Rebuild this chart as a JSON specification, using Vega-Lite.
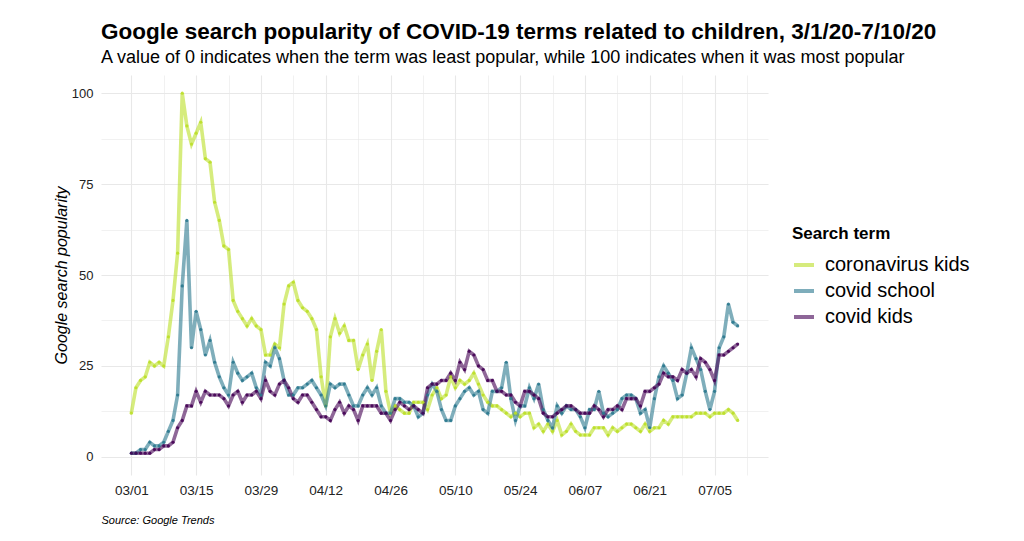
{
  "$schema": "https://vega.github.io/schema/vega-lite/v6.json",
  "width": 667,
  "height": 400,
  "autosize": "none",
  "padding": {"left": 101, "top": 75, "right": 256, "bottom": 66},
  "background": "white",
  "title": {
    "text": "Google search popularity of COVID-19 terms related to children, 3/1/20-7/10/20",
    "subtitle": "A value of 0 indicates when the term was least popular, while 100 indicates when it was most popular",
    "anchor": "start",
    "frame": "group",
    "font": "Liberation Sans",
    "fontSize": 22.5,
    "fontWeight": "bold",
    "color": "#000000",
    "subtitleFont": "Liberation Sans",
    "subtitleFontSize": 18,
    "subtitleColor": "#000000",
    "subtitlePadding": 6,
    "offset": 8
  },
  "data": {
    "values": [
      {"date": "2020-03-01", "coronavirus kids": 12, "covid school": 1, "covid kids": 1},
      {"date": "2020-03-02", "coronavirus kids": 19, "covid school": 1, "covid kids": 1},
      {"date": "2020-03-03", "coronavirus kids": 21, "covid school": 2, "covid kids": 1},
      {"date": "2020-03-04", "coronavirus kids": 22, "covid school": 2, "covid kids": 1},
      {"date": "2020-03-05", "coronavirus kids": 26, "covid school": 4, "covid kids": 1},
      {"date": "2020-03-06", "coronavirus kids": 25, "covid school": 3, "covid kids": 2},
      {"date": "2020-03-07", "coronavirus kids": 26, "covid school": 3, "covid kids": 2},
      {"date": "2020-03-08", "coronavirus kids": 25, "covid school": 4, "covid kids": 3},
      {"date": "2020-03-09", "coronavirus kids": 33, "covid school": 7, "covid kids": 3},
      {"date": "2020-03-10", "coronavirus kids": 43, "covid school": 10, "covid kids": 4},
      {"date": "2020-03-11", "coronavirus kids": 56, "covid school": 17, "covid kids": 8},
      {"date": "2020-03-12", "coronavirus kids": 100, "covid school": 47, "covid kids": 10},
      {"date": "2020-03-13", "coronavirus kids": 91, "covid school": 65, "covid kids": 14},
      {"date": "2020-03-14", "coronavirus kids": 86, "covid school": 30, "covid kids": 14},
      {"date": "2020-03-15", "coronavirus kids": 89, "covid school": 40, "covid kids": 18},
      {"date": "2020-03-16", "coronavirus kids": 92, "covid school": 35, "covid kids": 15},
      {"date": "2020-03-17", "coronavirus kids": 82, "covid school": 28, "covid kids": 18},
      {"date": "2020-03-18", "coronavirus kids": 81, "covid school": 32, "covid kids": 17},
      {"date": "2020-03-19", "coronavirus kids": 70, "covid school": 26, "covid kids": 17},
      {"date": "2020-03-20", "coronavirus kids": 65, "covid school": 22, "covid kids": 17},
      {"date": "2020-03-21", "coronavirus kids": 58, "covid school": 19, "covid kids": 16},
      {"date": "2020-03-22", "coronavirus kids": 57, "covid school": 17, "covid kids": 14},
      {"date": "2020-03-23", "coronavirus kids": 43, "covid school": 26, "covid kids": 17},
      {"date": "2020-03-24", "coronavirus kids": 40, "covid school": 23, "covid kids": 18},
      {"date": "2020-03-25", "coronavirus kids": 38, "covid school": 21, "covid kids": 15},
      {"date": "2020-03-26", "coronavirus kids": 36, "covid school": 22, "covid kids": 17},
      {"date": "2020-03-27", "coronavirus kids": 38, "covid school": 23, "covid kids": 17},
      {"date": "2020-03-28", "coronavirus kids": 36, "covid school": 19, "covid kids": 18},
      {"date": "2020-03-29", "coronavirus kids": 35, "covid school": 17, "covid kids": 16},
      {"date": "2020-03-30", "coronavirus kids": 28, "covid school": 26, "covid kids": 21},
      {"date": "2020-03-31", "coronavirus kids": 28, "covid school": 25, "covid kids": 18},
      {"date": "2020-04-01", "coronavirus kids": 31, "covid school": 30, "covid kids": 17},
      {"date": "2020-04-02", "coronavirus kids": 30, "covid school": 27, "covid kids": 20},
      {"date": "2020-04-03", "coronavirus kids": 42, "covid school": 21, "covid kids": 21},
      {"date": "2020-04-04", "coronavirus kids": 47, "covid school": 17, "covid kids": 19},
      {"date": "2020-04-05", "coronavirus kids": 48, "covid school": 17, "covid kids": 16},
      {"date": "2020-04-06", "coronavirus kids": 43, "covid school": 19, "covid kids": 15},
      {"date": "2020-04-07", "coronavirus kids": 41, "covid school": 19, "covid kids": 17},
      {"date": "2020-04-08", "coronavirus kids": 40, "covid school": 20, "covid kids": 17},
      {"date": "2020-04-09", "coronavirus kids": 38, "covid school": 21, "covid kids": 15},
      {"date": "2020-04-10", "coronavirus kids": 35, "covid school": 19, "covid kids": 13},
      {"date": "2020-04-11", "coronavirus kids": 22, "covid school": 17, "covid kids": 11},
      {"date": "2020-04-12", "coronavirus kids": 14, "covid school": 14, "covid kids": 11},
      {"date": "2020-04-13", "coronavirus kids": 33, "covid school": 20, "covid kids": 10},
      {"date": "2020-04-14", "coronavirus kids": 38, "covid school": 19, "covid kids": 13},
      {"date": "2020-04-15", "coronavirus kids": 34, "covid school": 20, "covid kids": 15},
      {"date": "2020-04-16", "coronavirus kids": 36, "covid school": 20, "covid kids": 12},
      {"date": "2020-04-17", "coronavirus kids": 32, "covid school": 17, "covid kids": 14},
      {"date": "2020-04-18", "coronavirus kids": 32, "covid school": 14, "covid kids": 13},
      {"date": "2020-04-19", "coronavirus kids": 24, "covid school": 14, "covid kids": 10},
      {"date": "2020-04-20", "coronavirus kids": 28, "covid school": 17, "covid kids": 14},
      {"date": "2020-04-21", "coronavirus kids": 31, "covid school": 19, "covid kids": 14},
      {"date": "2020-04-22", "coronavirus kids": 21, "covid school": 17, "covid kids": 14},
      {"date": "2020-04-23", "coronavirus kids": 29, "covid school": 19, "covid kids": 14},
      {"date": "2020-04-24", "coronavirus kids": 35, "covid school": 14, "covid kids": 12},
      {"date": "2020-04-25", "coronavirus kids": 18, "covid school": 12, "covid kids": 12},
      {"date": "2020-04-26", "coronavirus kids": 12, "covid school": 12, "covid kids": 10},
      {"date": "2020-04-27", "coronavirus kids": 14, "covid school": 16, "covid kids": 13},
      {"date": "2020-04-28", "coronavirus kids": 13, "covid school": 16, "covid kids": 15},
      {"date": "2020-04-29", "coronavirus kids": 12, "covid school": 15, "covid kids": 14},
      {"date": "2020-04-30", "coronavirus kids": 12, "covid school": 15, "covid kids": 13},
      {"date": "2020-05-01", "coronavirus kids": 15, "covid school": 14, "covid kids": 14},
      {"date": "2020-05-02", "coronavirus kids": 15, "covid school": 11, "covid kids": 13},
      {"date": "2020-05-03", "coronavirus kids": 15, "covid school": 12, "covid kids": 12},
      {"date": "2020-05-04", "coronavirus kids": 13, "covid school": 17, "covid kids": 19},
      {"date": "2020-05-05", "coronavirus kids": 17, "covid school": 20, "covid kids": 20},
      {"date": "2020-05-06", "coronavirus kids": 19, "covid school": 18, "covid kids": 20},
      {"date": "2020-05-07", "coronavirus kids": 16, "covid school": 13, "covid kids": 21},
      {"date": "2020-05-08", "coronavirus kids": 17, "covid school": 10, "covid kids": 21},
      {"date": "2020-05-09", "coronavirus kids": 22, "covid school": 10, "covid kids": 23},
      {"date": "2020-05-10", "coronavirus kids": 19, "covid school": 14, "covid kids": 21},
      {"date": "2020-05-11", "coronavirus kids": 21, "covid school": 16, "covid kids": 26},
      {"date": "2020-05-12", "coronavirus kids": 20, "covid school": 18, "covid kids": 24},
      {"date": "2020-05-13", "coronavirus kids": 21, "covid school": 19, "covid kids": 29},
      {"date": "2020-05-14", "coronavirus kids": 23, "covid school": 17, "covid kids": 28},
      {"date": "2020-05-15", "coronavirus kids": 20, "covid school": 18, "covid kids": 25},
      {"date": "2020-05-16", "coronavirus kids": 17, "covid school": 13, "covid kids": 24},
      {"date": "2020-05-17", "coronavirus kids": 15, "covid school": 12, "covid kids": 21},
      {"date": "2020-05-18", "coronavirus kids": 14, "covid school": 18, "covid kids": 21},
      {"date": "2020-05-19", "coronavirus kids": 14, "covid school": 18, "covid kids": 18},
      {"date": "2020-05-20", "coronavirus kids": 13, "covid school": 19, "covid kids": 18},
      {"date": "2020-05-21", "coronavirus kids": 12, "covid school": 26, "covid kids": 17},
      {"date": "2020-05-22", "coronavirus kids": 11, "covid school": 16, "covid kids": 17},
      {"date": "2020-05-23", "coronavirus kids": 12, "covid school": 10, "covid kids": 15},
      {"date": "2020-05-24", "coronavirus kids": 11, "covid school": 14, "covid kids": 14},
      {"date": "2020-05-25", "coronavirus kids": 12, "covid school": 14, "covid kids": 18},
      {"date": "2020-05-26", "coronavirus kids": 12, "covid school": 19, "covid kids": 18},
      {"date": "2020-05-27", "coronavirus kids": 8, "covid school": 16, "covid kids": 17},
      {"date": "2020-05-28", "coronavirus kids": 9, "covid school": 20, "covid kids": 16},
      {"date": "2020-05-29", "coronavirus kids": 7, "covid school": 13, "covid kids": 12},
      {"date": "2020-05-30", "coronavirus kids": 9, "covid school": 10, "covid kids": 11},
      {"date": "2020-05-31", "coronavirus kids": 7, "covid school": 8, "covid kids": 11},
      {"date": "2020-06-01", "coronavirus kids": 10, "covid school": 14, "covid kids": 12},
      {"date": "2020-06-02", "coronavirus kids": 6, "covid school": 12, "covid kids": 13},
      {"date": "2020-06-03", "coronavirus kids": 7, "covid school": 14, "covid kids": 14},
      {"date": "2020-06-04", "coronavirus kids": 9, "covid school": 13, "covid kids": 14},
      {"date": "2020-06-05", "coronavirus kids": 7, "covid school": 13, "covid kids": 13},
      {"date": "2020-06-06", "coronavirus kids": 6, "covid school": 11, "covid kids": 12},
      {"date": "2020-06-07", "coronavirus kids": 6, "covid school": 8, "covid kids": 12},
      {"date": "2020-06-08", "coronavirus kids": 6, "covid school": 13, "covid kids": 12},
      {"date": "2020-06-09", "coronavirus kids": 8, "covid school": 13, "covid kids": 14},
      {"date": "2020-06-10", "coronavirus kids": 8, "covid school": 18, "covid kids": 13},
      {"date": "2020-06-11", "coronavirus kids": 8, "covid school": 12, "covid kids": 11},
      {"date": "2020-06-12", "coronavirus kids": 6, "covid school": 11, "covid kids": 13},
      {"date": "2020-06-13", "coronavirus kids": 8, "covid school": 12, "covid kids": 13},
      {"date": "2020-06-14", "coronavirus kids": 7, "covid school": 13, "covid kids": 14},
      {"date": "2020-06-15", "coronavirus kids": 8, "covid school": 16, "covid kids": 13},
      {"date": "2020-06-16", "coronavirus kids": 9, "covid school": 17, "covid kids": 16},
      {"date": "2020-06-17", "coronavirus kids": 9, "covid school": 17, "covid kids": 16},
      {"date": "2020-06-18", "coronavirus kids": 8, "covid school": 16, "covid kids": 16},
      {"date": "2020-06-19", "coronavirus kids": 7, "covid school": 12, "covid kids": 14},
      {"date": "2020-06-20", "coronavirus kids": 9, "covid school": 13, "covid kids": 18},
      {"date": "2020-06-21", "coronavirus kids": 7, "covid school": 8, "covid kids": 18},
      {"date": "2020-06-22", "coronavirus kids": 8, "covid school": 16, "covid kids": 19},
      {"date": "2020-06-23", "coronavirus kids": 8, "covid school": 22, "covid kids": 20},
      {"date": "2020-06-24", "coronavirus kids": 10, "covid school": 25, "covid kids": 23},
      {"date": "2020-06-25", "coronavirus kids": 9, "covid school": 23, "covid kids": 22},
      {"date": "2020-06-26", "coronavirus kids": 11, "covid school": 21, "covid kids": 22},
      {"date": "2020-06-27", "coronavirus kids": 11, "covid school": 16, "covid kids": 21},
      {"date": "2020-06-28", "coronavirus kids": 11, "covid school": 17, "covid kids": 24},
      {"date": "2020-06-29", "coronavirus kids": 11, "covid school": 23, "covid kids": 23},
      {"date": "2020-06-30", "coronavirus kids": 11, "covid school": 30, "covid kids": 24},
      {"date": "2020-07-01", "coronavirus kids": 12, "covid school": 27, "covid kids": 22},
      {"date": "2020-07-02", "coronavirus kids": 12, "covid school": 24, "covid kids": 27},
      {"date": "2020-07-03", "coronavirus kids": 12, "covid school": 18, "covid kids": 26},
      {"date": "2020-07-04", "coronavirus kids": 11, "covid school": 13, "covid kids": 24},
      {"date": "2020-07-05", "coronavirus kids": 12, "covid school": 18, "covid kids": 21},
      {"date": "2020-07-06", "coronavirus kids": 12, "covid school": 30, "covid kids": 28},
      {"date": "2020-07-07", "coronavirus kids": 12, "covid school": 33, "covid kids": 28},
      {"date": "2020-07-08", "coronavirus kids": 13, "covid school": 42, "covid kids": 29},
      {"date": "2020-07-09", "coronavirus kids": 12, "covid school": 37, "covid kids": 30},
      {"date": "2020-07-10", "coronavirus kids": 10, "covid school": 36, "covid kids": 31}
    ]
  },
  "transform": [
    {"fold": ["coronavirus kids", "covid school", "covid kids"], "as": ["term", "value"]}
  ],
  "encoding": {
    "x": {
      "field": "date",
      "type": "temporal",
      "scale": {
        "type": "utc",
        "domain": [
          {"year": 2020, "month": 2, "date": 23, "hours": 10, "minutes": 48, "utc": true},
          {"year": 2020, "month": 7, "date": 16, "hours": 13, "minutes": 12, "utc": true}
        ]
      },
      "axis": {
        "title": "Source: Google Trends",
        "titleAnchor": "start",
        "titleAlign": "left",
        "titleFont": "Liberation Sans",
        "titleFontSize": 11,
        "titleFontStyle": "italic",
        "titleFontWeight": "normal",
        "titleColor": "#000000",
        "titlePadding": 18,
        "titleX": 0,
        "values": [
          {"year": 2020, "month": 3, "date": 1, "utc": true},
          {"year": 2020, "month": 3, "date": 8, "utc": true},
          {"year": 2020, "month": 3, "date": 15, "utc": true},
          {"year": 2020, "month": 3, "date": 22, "utc": true},
          {"year": 2020, "month": 3, "date": 29, "utc": true},
          {"year": 2020, "month": 4, "date": 5, "utc": true},
          {"year": 2020, "month": 4, "date": 12, "utc": true},
          {"year": 2020, "month": 4, "date": 19, "utc": true},
          {"year": 2020, "month": 4, "date": 26, "utc": true},
          {"year": 2020, "month": 5, "date": 3, "utc": true},
          {"year": 2020, "month": 5, "date": 10, "utc": true},
          {"year": 2020, "month": 5, "date": 17, "utc": true},
          {"year": 2020, "month": 5, "date": 24, "utc": true},
          {"year": 2020, "month": 5, "date": 31, "utc": true},
          {"year": 2020, "month": 6, "date": 7, "utc": true},
          {"year": 2020, "month": 6, "date": 14, "utc": true},
          {"year": 2020, "month": 6, "date": 21, "utc": true},
          {"year": 2020, "month": 6, "date": 28, "utc": true},
          {"year": 2020, "month": 7, "date": 5, "utc": true},
          {"year": 2020, "month": 7, "date": 12, "utc": true}
        ],
        "labelExpr": "round((datum.value - utc(2020, 2, 1)) / 86400000) % 14 == 0 ? utcFormat(datum.value, '%m/%d') : ''",
        "labelFont": "Liberation Sans",
        "labelFontSize": 13.5,
        "labelColor": "#222222",
        "labelPadding": 8,
        "labelOverlap": false,
        "labelFlush": false,
        "ticks": false,
        "domain": false,
        "grid": true,
        "gridColor": "#e8e8e8",
        "gridWidth": {"condition": {"test": "round((datum.value - utc(2020, 2, 1)) / 86400000) % 14 == 0", "value": 1.1}, "value": 0.6}
      }
    },
    "y": {
      "field": "value",
      "type": "quantitative",
      "scale": {"domain": [-5, 105], "nice": false, "zero": false},
      "axis": {
        "title": "Google search popularity",
        "titleFont": "Liberation Sans",
        "titleFontSize": 16,
        "titleFontStyle": "italic",
        "titleFontWeight": "normal",
        "titleColor": "#000000",
        "titlePadding": 2,
        "values": [0, 12.5, 25, 37.5, 50, 62.5, 75, 87.5, 100],
        "labelExpr": "datum.value % 25 == 0 ? datum.label : ''",
        "labelFont": "Liberation Sans",
        "labelFontSize": 13,
        "labelColor": "#222222",
        "labelPadding": 8,
        "ticks": false,
        "domain": false,
        "grid": true,
        "gridColor": "#e8e8e8",
        "gridWidth": {"condition": {"test": "datum.value % 25 == 0", "value": 1.1}, "value": 0.6}
      }
    },
    "color": {
      "field": "term",
      "type": "nominal",
      "scale": {
        "domain": ["coronavirus kids", "covid school", "covid kids"],
        "range": ["#BBDF27", "#2A788E", "#440154"]
      },
      "legend": {
        "title": "Search term",
        "orient": "none",
        "legendX": 691,
        "legendY": 151,
        "titleFont": "Liberation Sans",
        "titleFontSize": 17,
        "titleFontWeight": "bold",
        "titleColor": "#000000",
        "titlePadding": 10,
        "labelFont": "Liberation Sans",
        "labelFontSize": 20,
        "labelColor": "#000000",
        "labelOffset": 9,
        "symbolType": "stroke",
        "symbolStrokeWidth": 4,
        "symbolSize": 400,
        "symbolOpacity": 0.6,
        "rowPadding": 4
      }
    }
  },
  "layer": [
    {"mark": {"type": "line", "strokeWidth": 3.6, "opacity": 0.6}},
    {"mark": {"type": "point", "filled": true, "size": 10, "opacity": 0.9}}
  ],
  "config": {"view": {"stroke": null}}
}
